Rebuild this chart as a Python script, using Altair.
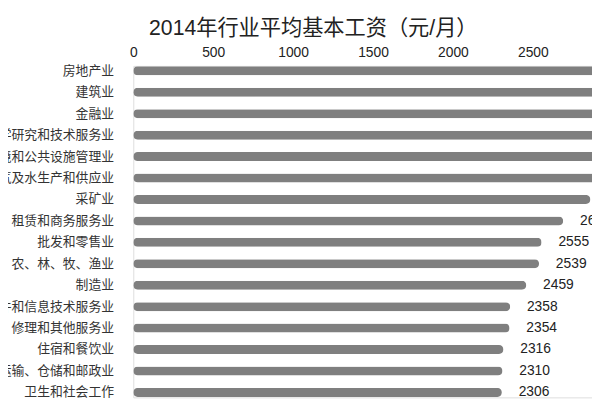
import altair as alt
import pandas as pd

industries = [
    "房地产业",
    "建筑业",
    "金融业",
    "科学研究和技术服务业",
    "水利、环境和公共设施管理业",
    "电力、热力、燃气及水生产和供应业",
    "采矿业",
    "租赁和商务服务业",
    "批发和零售业",
    "农、林、牧、渔业",
    "制造业",
    "信息传输、软件和信息技术服务业",
    "居民服务、修理和其他服务业",
    "住宿和餐饮业",
    "交通运输、仓储和邮政业",
    "卫生和社会工作",
]
wages = [3300, 3200, 3150, 2985, 2930, 2905, 2860, 2690, 2555, 2539, 2459, 2358, 2354, 2316, 2310, 2306]
ticks = [0, 500, 1000, 1500, 2000, 2500, 3000]

df = pd.DataFrame({"industry": industries, "wage": wages})

FONT = "Liberation Sans, Noto Sans CJK SC, sans-serif"

y_enc = alt.Y(
    "industry:N",
    sort=industries,
    title=None,
    scale=alt.Scale(paddingInner=0.58, paddingOuter=0.02),
    axis=alt.Axis(
        labelFontSize=13,
        labelColor="#333333",
        labelPadding=20,
        ticks=False,
        tickSize=0,
        domain=False,
        labelLimit=400,
    ),
)

x_scale = alt.Scale(domain=[0, 2870], nice=False)

base = alt.Chart(df).encode(y=y_enc)

bars = base.mark_bar(color="#7f7f7f", cornerRadius=4.5).encode(
    x=alt.X(
        "wage:Q",
        scale=x_scale,
        title=None,
        axis=alt.Axis(
            orient="top",
            values=ticks,
            format="d",
            grid=False,
            domain=False,
            ticks=False,
            tickSize=0,
            labelPadding=7,
            labelFontSize=14,
            labelColor="#222222",
            labelFlush=False,
            labelOverlap=False,
        ),
    )
)

labels = base.mark_text(align="left", baseline="middle", dx=17, fontSize=14, color="#222222").encode(
    x=alt.X("wage:Q", scale=x_scale),
    text=alt.Text("wage:Q", format="d"),
)

chart = (
    alt.layer(bars, labels)
    .properties(
        width=465,
        height=336,
        padding={"left": 127, "top": 56, "right": 0, "bottom": 0},
        autosize=alt.AutoSizeParams(type="none"),
        title=alt.TitleParams(
            "2014年行业平均基本工资（元/月）",
            fontSize=21.5,
            fontWeight="normal",
            color="#222222",
            anchor="middle",
            frame="group",
            dx=-50,
            offset=6,
        ),
    )
    .configure_view(stroke=None)
    .configure(font=FONT)
)

chart.save("out.html", embed_options={"renderer": "svg", "actions": False})
